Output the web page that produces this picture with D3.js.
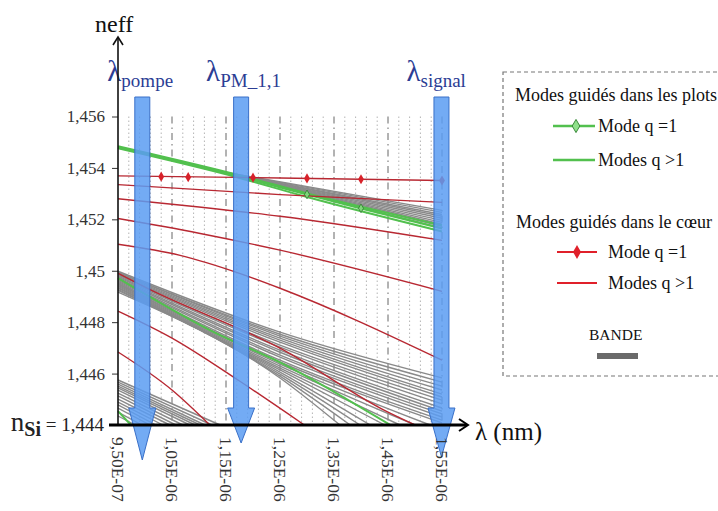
<!DOCTYPE html>
<html><head><meta charset="utf-8">
<script src="https://cdn.jsdelivr.net/npm/d3@7"></script>
<style>body{margin:0;background:#fff}svg{display:block}svg text{font-family:"Liberation Serif",serif}</style>
</head><body><svg id="c" width="718" height="511"></svg>
<script>
// ---------- data ----------
const lambdaTicks = [0.95, 1.05, 1.15, 1.25, 1.35, 1.45, 1.55];
const lambdaTickLabels = ["9,50E-07","1,05E-06","1,15E-06","1,25E-06","1,35E-06","1,45E-06","1,55E-06"];
const neffTicks = [1.446, 1.448, 1.450, 1.452, 1.454, 1.456];
const neffTickLabels = ["1,446","1,448","1,45","1,452","1,454","1,456"];

// core guided mode q=1 (red with diamonds)
const coreQ1 = [[0.95,1.45369],[1.25,1.45361],[1.55,1.45351]];
const coreQ1Markers = [[1.03,1.45366],[1.08,1.45364],[1.20,1.45362],[1.30,1.45359],[1.40,1.45356],[1.55,1.45351]];
// core guided modes q>1 (red)
const coreHigher = [
  [[0.95,1.45335],[1.25,1.45296],[1.55,1.45266]],
  [[0.95,1.45280],[1.10,1.45248],[1.25,1.45212],[1.55,1.45118]],
  [[0.95,1.45203],[1.10,1.45146],[1.25,1.45080],[1.55,1.44920]],
  [[0.95,1.45103],[1.065,1.45060],[1.175,1.44990],[1.25,1.44932],[1.55,1.44652]],
  [[0.95,1.44990],[1.00,1.44936],[1.25,1.44699],[1.45,1.44450],[1.50,1.44400]],
  [[0.95,1.44843],[1.05,1.44738],[1.175,1.44571],[1.295,1.44400]],
  [[0.95,1.44684],[1.05,1.44536],[1.12,1.44400]]
];
// plot guided mode q=1 (green with hollow diamonds)
const plotQ1 = [[0.95,1.45480],[1.175,1.45367],[1.30,1.45297],[1.40,1.45243],[1.55,1.45165]];
const plotQ1Markers = [[1.30,1.45297],[1.40,1.45243]];
// plot guided modes q>1 (green)
const plotHigher = [
  [[0.95,1.45484],[1.175,1.45371],[1.30,1.45301],[1.55,1.45177]],
  [[0.95,1.45476],[1.175,1.45361],[1.30,1.45287],[1.55,1.45153]],
  [[0.95,1.44971],[1.12,1.44769],[1.26,1.44633],[1.454,1.44400]],
  [[0.95,1.44454],[0.974,1.44400]]
];
// band modes (grey)
const bandUpper = [
  [[1.13,1.45390],[1.55,1.45235]],
  [[1.13,1.45390],[1.55,1.45227]],
  [[1.14,1.45385],[1.55,1.45219]],
  [[1.14,1.45385],[1.55,1.45212]],
  [[1.15,1.45380],[1.55,1.45204]],
  [[1.15,1.45380],[1.55,1.45196]],
  [[1.16,1.45375],[1.55,1.45188]],
  [[1.16,1.45375],[1.55,1.45181]],
  [[1.17,1.45370],[1.55,1.45173]],
  [[1.17,1.45370],[1.55,1.45165]]
];
const bandMiddle = [
  [[0.95,1.44998],[1.25,1.44761],[1.55,1.44583]],
  [[0.95,1.44994],[1.25,1.44753],[1.55,1.44567]],
  [[0.95,1.44994],[1.25,1.44746],[1.55,1.44551]],
  [[0.95,1.44990],[1.25,1.44738],[1.55,1.44536]],
  [[0.95,1.44986],[1.25,1.44730],[1.55,1.44520]],
  [[0.95,1.44983],[1.25,1.44722],[1.55,1.44509]],
  [[0.95,1.44979],[1.25,1.44711],[1.55,1.44497]],
  [[0.95,1.44975],[1.25,1.44703],[1.55,1.44482]],
  [[0.95,1.44971],[1.25,1.44691],[1.55,1.44466]],
  [[0.95,1.44967],[1.25,1.44683],[1.55,1.44454]],
  [[0.95,1.44963],[1.25,1.44672],[1.55,1.44443]],
  [[0.95,1.44959],[1.25,1.44664],[1.55,1.44431]],
  [[0.95,1.44955],[1.25,1.44652],[1.55,1.44419]],
  [[0.95,1.44951],[1.25,1.44645],[1.55,1.44408]],
  [[0.95,1.44948],[1.25,1.44637],[1.528,1.44400]],
  [[0.95,1.44944],[1.25,1.44629],[1.500,1.44400]],
  [[0.95,1.44940],[1.25,1.44621],[1.472,1.44400]],
  [[0.95,1.44936],[1.25,1.44614],[1.444,1.44400]],
  [[0.95,1.44932],[1.25,1.44606],[1.417,1.44400]],
  [[0.95,1.44928],[1.25,1.44598],[1.398,1.44400]],
  [[0.95,1.44924],[1.25,1.44590],[1.380,1.44400]],
  [[0.95,1.44917],[1.25,1.44583],[1.361,1.44400]]
];
const bandLower = [
  [[0.95,1.44575],[1.139,1.44400]],
  [[0.95,1.44567],[1.124,1.44400]],
  [[0.95,1.44559],[1.111,1.44400]],
  [[0.95,1.44551],[1.102,1.44400]],
  [[0.95,1.44544],[1.093,1.44400]],
  [[0.95,1.44536],[1.083,1.44400]],
  [[0.95,1.44524],[1.070,1.44400]],
  [[0.95,1.44513],[1.057,1.44400]],
  [[0.95,1.44501],[1.046,1.44400]],
  [[0.95,1.44489],[1.033,1.44400]],
  [[0.95,1.44478],[1.020,1.44400]],
  [[0.95,1.44466],[1.009,1.44400]],
  [[0.95,1.44450],[0.994,1.44400]],
  [[0.95,1.44435],[0.982,1.44400]]
];
// wavelength markers (blue arrows)
const arrowLambdas = [0.995, 1.178, 1.549];
const arrowNames = ["pompe", "PM_1,1", "signal"];

// ---------- drawing ----------
const svg = d3.select("#c");
const FONT = "Liberation Serif";
const x = d3.scaleLinear().domain([0.95, 1.55]).range([118, 442]);
const y = d3.scaleLinear().domain([1.444, 1.456]).range([425, 116.5]);
const RED = "#b82832", GREEN = "#52c04e", GREY = "#8a8a8a";

// grid
const grid = svg.append("g");
const minor = d3.range(0.97, 1.545, 0.02).filter(v => Math.abs(((v - 0.95) * 10) - Math.round((v - 0.95) * 10)) > 0.05);
grid.selectAll(".mn").data(minor).join("line")
  .attr("x1", d => x(d)).attr("x2", d => x(d)).attr("y1", y(1.456)).attr("y2", y(1.444))
  .attr("stroke", "#b4b4b4").attr("stroke-width", 1).attr("stroke-dasharray", "1.5,2.5");
grid.selectAll(".mj").data(lambdaTicks.slice(1)).join("line")
  .attr("x1", d => x(d)).attr("x2", d => x(d)).attr("y1", y(1.456)).attr("y2", y(1.444))
  .attr("stroke", "#666").attr("stroke-width", 1).attr("stroke-dasharray", "7,4,1.5,4");

const line = d3.line().x(d => x(d[0])).y(d => y(d[1])).curve(d3.curveMonotoneX);

const gGrey = svg.append("g").attr("fill", "none").attr("stroke", GREY).attr("stroke-width", 1.4);
gGrey.selectAll("path").data([...bandUpper, ...bandMiddle, ...bandLower]).join("path").attr("d", line);

const gGreen = svg.append("g").attr("fill", "none").attr("stroke", GREEN);
gGreen.selectAll("path").data(plotHigher).join("path").attr("d", line).attr("stroke-width", 2);
gGreen.append("path").datum(plotQ1).attr("d", line).attr("stroke-width", 2.4);

const gRed = svg.append("g").attr("fill", "none").attr("stroke", RED).attr("stroke-width", 1.4);
gRed.selectAll("path").data(coreHigher).join("path").attr("d", line);
gRed.append("path").datum(coreQ1).attr("d", line);

const diamond = d3.symbol().type(d3.symbolDiamond).size(30);
svg.append("g").selectAll("path").data(coreQ1Markers).join("path")
  .attr("transform", d => `translate(${x(d[0])},${y(d[1])})`).attr("d", diamond).attr("fill", "#d8222a");
svg.append("g").selectAll("path").data(plotQ1Markers).join("path")
  .attr("transform", d => `translate(${x(d[0])},${y(d[1])})`).attr("d", d3.symbol().type(d3.symbolDiamond).size(22))
  .attr("fill", "#7fd67a").attr("stroke", "#2f7a2f").attr("stroke-width", 0.8);

// blue arrows
const tipDrop = [35, 18, 32];
const gArr = svg.append("g");
arrowLambdas.forEach((l, i) => {
  const cx = x(l), top = 97, sh = 408, tip = y(1.444) + tipDrop[i];
  gArr.append("path")
    .attr("d", `M${cx-7.5},${top}L${cx+7.5},${top}L${cx+7.5},${sh}L${cx+13.5},${sh}L${cx},${tip}L${cx-13.5},${sh}L${cx-7.5},${sh}Z`)
    .attr("fill", "#5b9cf2").attr("fill-opacity", 0.85).attr("stroke", "#3a70c8").attr("stroke-width", 1);
  const t = svg.append("text").attr("x", cx - 35).attr("y", 81).attr("fill", "#2b3d94").style("font-family", FONT);
  t.append("tspan").text("λ").style("font-size", "29px");
  t.append("tspan").text(arrowNames[i]).attr("dy", 6).style("font-size", "19px");
});

// axes
const yAx = svg.append("g").attr("transform", "translate(118,0)")
  .call(d3.axisLeft(y).tickValues(neffTicks).tickFormat((d, i) => neffTickLabels[i]).tickSize(6).tickPadding(7));
yAx.attr("font-family", FONT).attr("font-size", 17);
yAx.select(".domain").remove();
yAx.selectAll("text").style("font-family", FONT).style("font-size", "17px").attr("fill", "#333");
yAx.selectAll("line").attr("stroke", "#333");

const xAx = svg.append("g").attr("transform", `translate(0,${y(1.444)})`)
  .call(d3.axisBottom(x).tickValues(lambdaTicks).tickFormat((d, i) => lambdaTickLabels[i]).tickSize(0));
xAx.attr("font-family", FONT).attr("font-size", 17.5);
xAx.select(".domain").remove();
xAx.selectAll("text").attr("transform", "rotate(90)").attr("x", 12).attr("y", 0).attr("dy", "0.35em")
  .style("text-anchor", "start").style("font-family", FONT).style("font-size", "17.5px").attr("fill", "#333");

svg.append("line").attr("x1", 118).attr("x2", 118).attr("y1", y(1.444)).attr("y2", 38).attr("stroke", "#111").attr("stroke-width", 1.6);
svg.append("path").attr("d", "M113,45L118,37L123,45").attr("fill", "none").attr("stroke", "#111").attr("stroke-width", 1.6);
svg.append("line").attr("x1", 109).attr("x2", 467).attr("y1", y(1.444)).attr("y2", y(1.444)).attr("stroke", "#000").attr("stroke-width", 3);
svg.append("path").attr("d", `M459,${y(1.444)-6}L468,${y(1.444)}L459,${y(1.444)+6}`).attr("fill", "none").attr("stroke", "#000").attr("stroke-width", 2);

svg.append("text").attr("x", 95).attr("y", 32).text("neff").style("font-family", FONT).style("font-size", "24px").attr("fill", "#111");
svg.append("text").attr("x", 475).attr("y", 440).text("λ (nm)").style("font-family", FONT).style("font-size", "25px").attr("fill", "#111");

const ns = svg.append("text").attr("x", 104).attr("y", 431).attr("text-anchor", "end").style("font-family", FONT).attr("fill", "#222");
ns.append("tspan").text("n").style("font-size", "27px");
ns.append("tspan").text("Si").attr("dy", 5).style("font-size", "20px").style("font-weight", "bold");
ns.append("tspan").text(" = 1,444").attr("dy", -5).style("font-size", "19px");

// legend
const lg = svg.append("g").style("font-family", FONT).style("font-size", "18px").attr("fill", "#111");
lg.append("rect").attr("x", 503).attr("y", 72).attr("width", 240).attr("height", 304)
  .attr("fill", "none").attr("stroke", "#777").attr("stroke-width", 1.2).attr("stroke-dasharray", "4,3");
lg.append("text").attr("x", 515).attr("y", 101).text("Modes guidés dans les plots");
lg.append("line").attr("x1", 553).attr("x2", 595).attr("y1", 126).attr("y2", 126).attr("stroke", GREEN).attr("stroke-width", 2.5);
lg.append("path").attr("transform", "translate(576,126)").attr("d", d3.symbol().type(d3.symbolDiamond).size(50))
  .attr("fill", "#8fe08a").attr("stroke", "#3a8a3a").attr("stroke-width", 1);
lg.append("text").attr("x", 598).attr("y", 132).text("Mode q =1");
lg.append("line").attr("x1", 553).attr("x2", 595).attr("y1", 160).attr("y2", 160).attr("stroke", GREEN).attr("stroke-width", 2.5);
lg.append("text").attr("x", 598).attr("y", 166).text("Modes q >1");
lg.append("text").attr("x", 516).attr("y", 228).text("Modes guidés dans le cœur");
lg.append("line").attr("x1", 557).attr("x2", 597).attr("y1", 252).attr("y2", 252).attr("stroke", "#e0202a").attr("stroke-width", 2);
lg.append("path").attr("transform", "translate(577,252)").attr("d", d3.symbol().type(d3.symbolDiamond).size(55)).attr("fill", "#e0202a");
lg.append("text").attr("x", 608).attr("y", 258).text("Mode q =1");
lg.append("line").attr("x1", 557).attr("x2", 597).attr("y1", 283).attr("y2", 283).attr("stroke", "#e0202a").attr("stroke-width", 2);
lg.append("text").attr("x", 608).attr("y", 289).text("Modes q >1");
lg.append("text").attr("x", 589).attr("y", 340).text("BANDE").style("font-size", "15.5px");
lg.append("rect").attr("x", 597).attr("y", 353).attr("width", 41).attr("height", 6).attr("fill", "#6a6a6a");
</script></body></html>
